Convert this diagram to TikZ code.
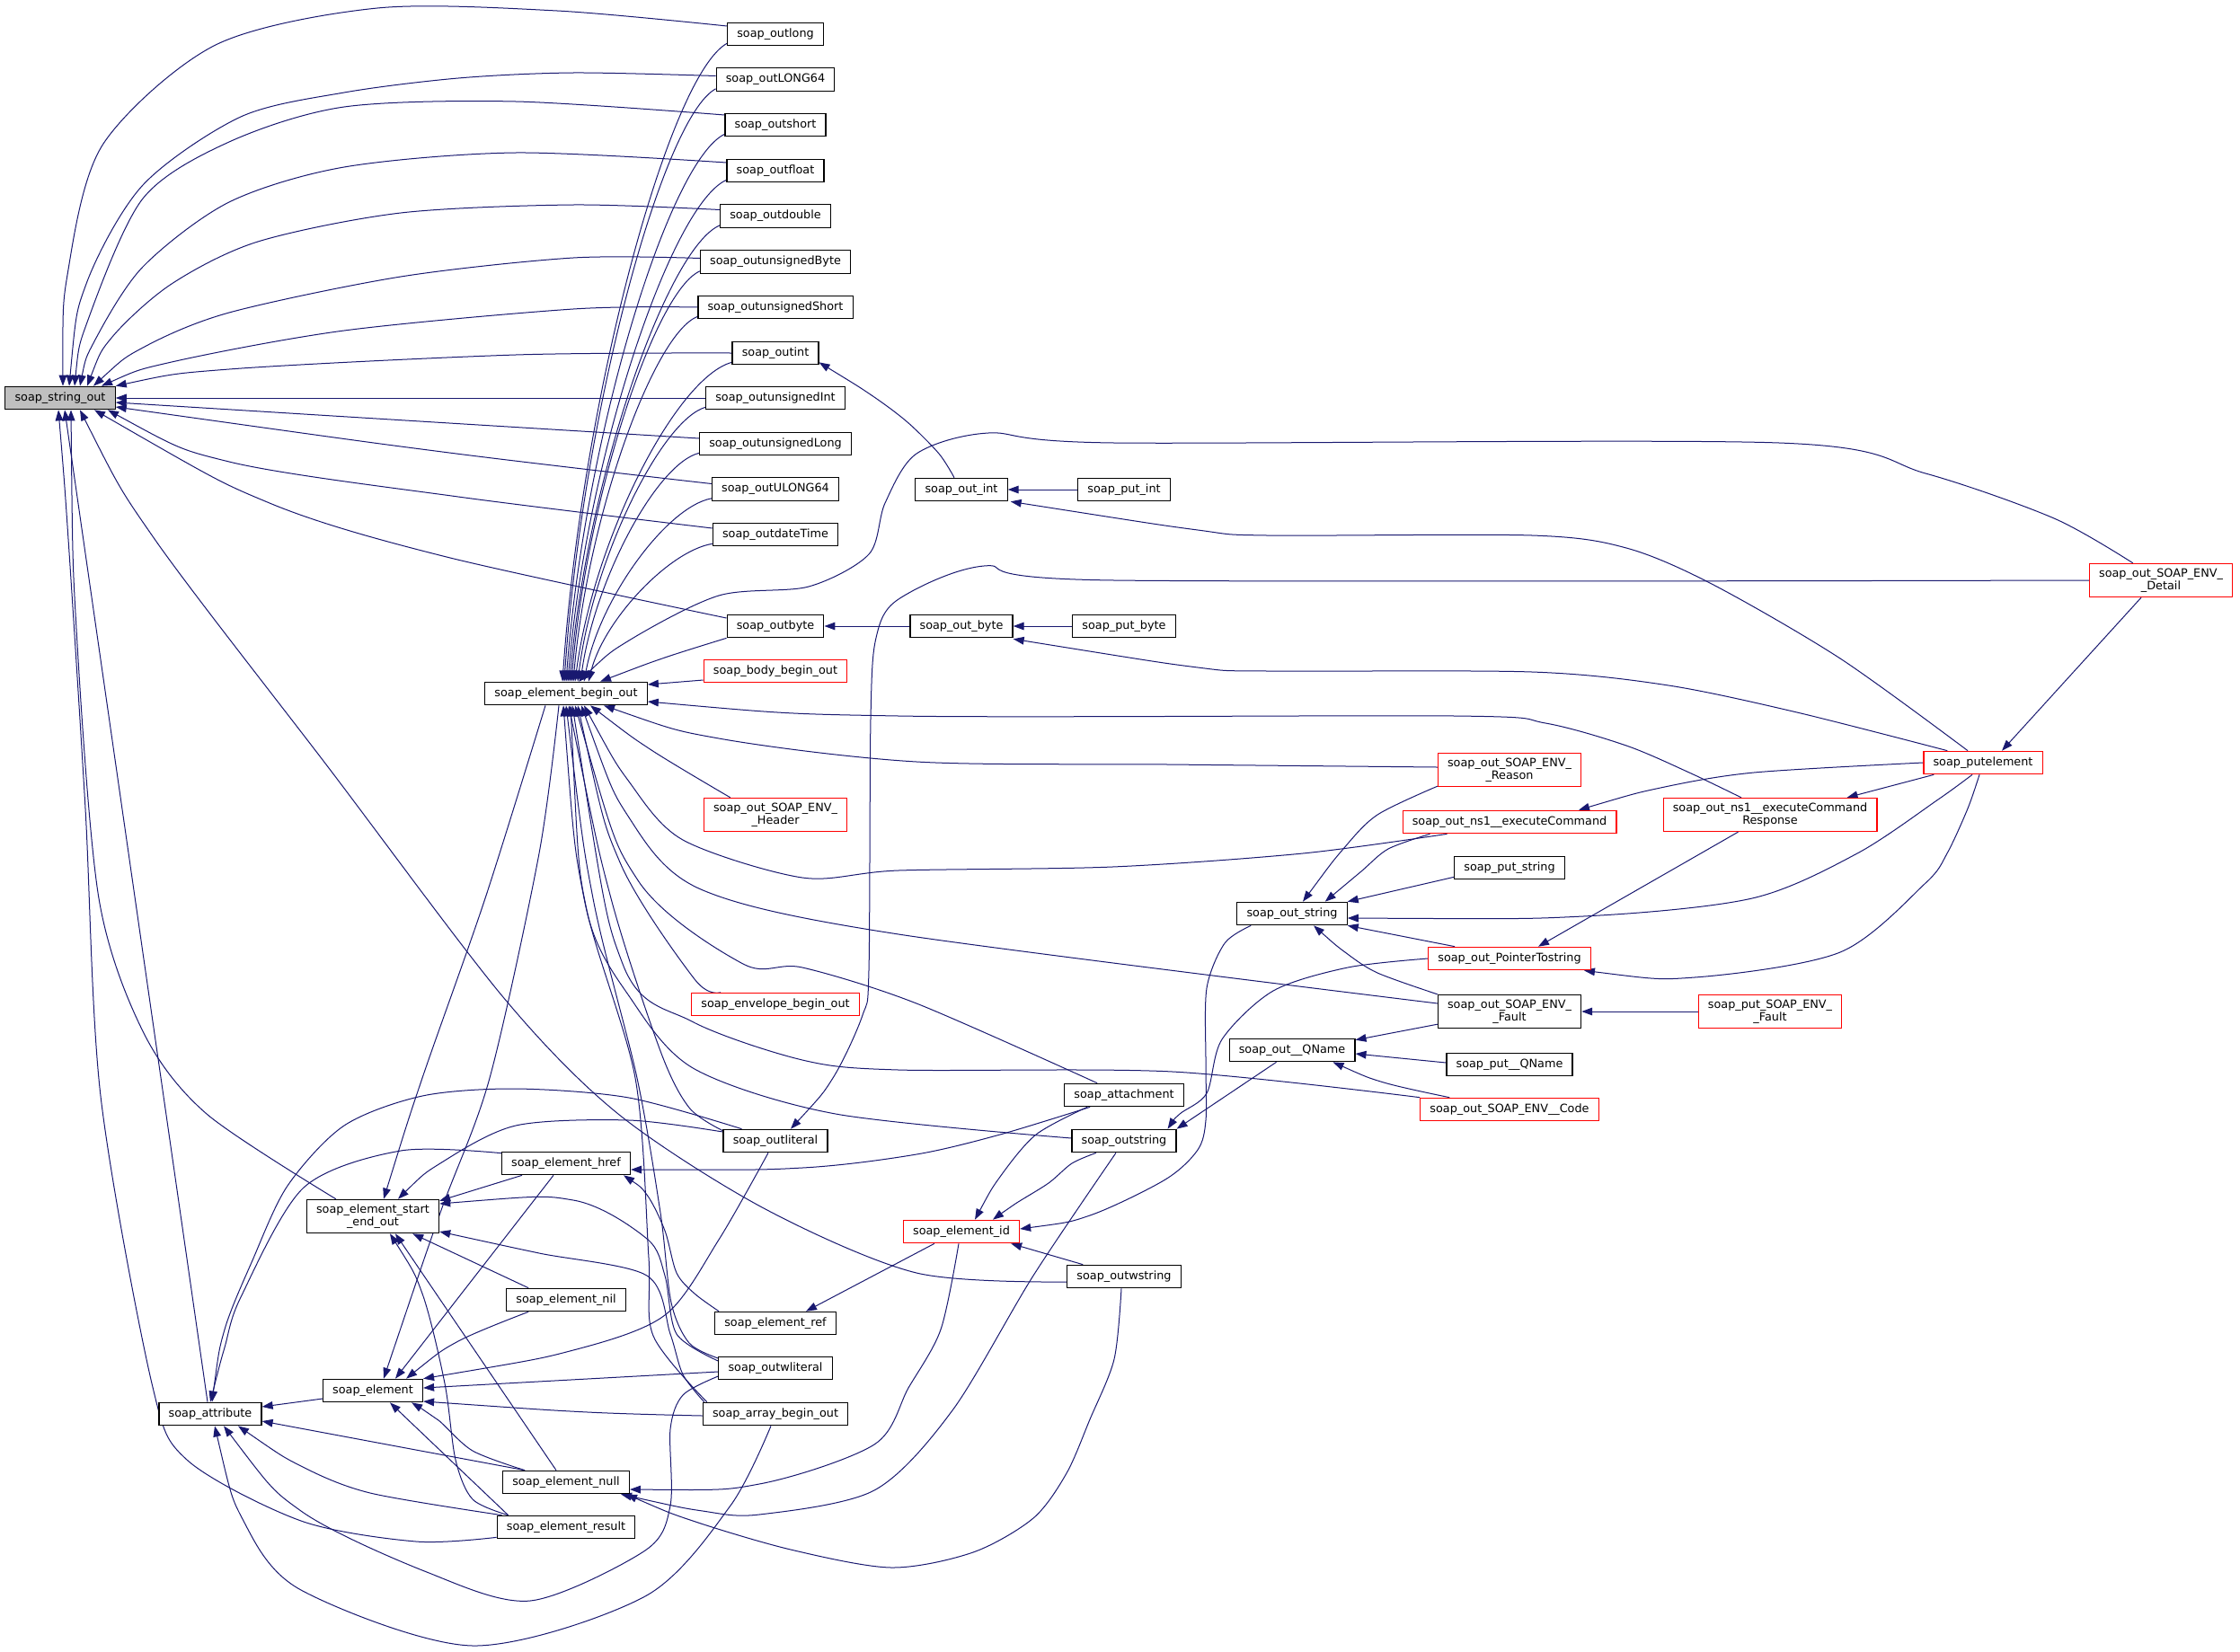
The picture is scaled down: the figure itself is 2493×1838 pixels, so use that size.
\documentclass[tikz,border=0pt]{standalone}
\usepackage{fontspec}
\setmainfont{DejaVu Sans}
\usetikzlibrary{arrows.meta,calc}
\definecolor{eb}{HTML}{191970}
\pgfdeclarelayer{bg}
\pgfsetlayers{bg,main}
\newcommand\nf{\fontsize{9.6}{10.5}\selectfont}
\tikzset{
  nd/.style={draw=black, line width=0.9pt, fill=white, font=\nf, inner xsep=8pt, inner ysep=4pt, minimum height=19.1pt, align=center},
  rn/.style={nd, draw=red},
  cl/.style={draw=eb, line width=0.75pt, arrows={Triangle[length=9pt,width=6.5pt]-}},
}
\begin{document}
\begin{tikzpicture}[x=0.75pt,y=-0.75pt]
\useasboundingbox (0,0) rectangle (2493,1838);
% rank 0-3
\node[nd,fill=gray!50] (S) at (67,443) {soap\_string\_out};
\node[nd] (A) at (234,1574) {soap\_attribute};
\node[nd] (SE) at (415,1354) {soap\_element\_start\\\_end\_out};
\node[nd] (EL) at (415,1548) {soap\_element};
\node[nd] (EBO) at (630,772) {soap\_element\_begin\_out};
\node[nd] (HREF) at (630,1295) {soap\_element\_href};
\node[nd] (NIL) at (630,1447) {soap\_element\_nil};
\node[nd] (NUL) at (630,1650) {soap\_element\_null};
\node[nd] (RES) at (630,1700) {soap\_element\_result};
% rank 4
\node[nd] (oLong) at (863,38) {soap\_outlong};
\node[nd] (oL64) at (863,88.5) {soap\_outLONG64};
\node[nd] (oShort) at (863,139) {soap\_outshort};
\node[nd] (oFloat) at (863,190) {soap\_outfloat};
\node[nd] (oDouble) at (863,240.5) {soap\_outdouble};
\node[nd] (oUB) at (863,291.5) {soap\_outunsignedByte};
\node[nd] (oUS) at (863,342) {soap\_outunsignedShort};
\node[nd] (oInt) at (863,393) {soap\_outint};
\node[nd] (oUI) at (863,443) {soap\_outunsignedInt};
\node[nd] (oUL) at (863,494) {soap\_outunsignedLong};
\node[nd] (oUL64) at (863,544.5) {soap\_outULONG64};
\node[nd] (oDT) at (863,595) {soap\_outdateTime};
\node[nd] (oByte) at (863,697) {soap\_outbyte};
\node[rn] (body) at (863,747) {soap\_body\_begin\_out};
\node[rn] (header) at (863,907) {soap\_out\_SOAP\_ENV\_\\\_Header};
\node[rn] (envelope) at (863,1118) {soap\_envelope\_begin\_out};
\node[nd] (oLit) at (863,1270) {soap\_outliteral};
\node[nd] (ref) at (863,1473) {soap\_element\_ref};
\node[nd] (oWLit) at (863,1523) {soap\_outwliteral};
\node[nd] (array) at (863,1574) {soap\_array\_begin\_out};
% rank 5-6
\node[nd] (outI) at (1070,545) {soap\_out\_int};
\node[nd] (outB) at (1070,697) {soap\_out\_byte};
\node[rn] (eid) at (1070,1371) {soap\_element\_id};
\node[nd] (putI) at (1251,545) {soap\_put\_int};
\node[nd] (putB) at (1251,697) {soap\_put\_byte};
\node[nd] (attach) at (1251,1219) {soap\_attachment};
\node[nd] (oStr) at (1251,1270) {soap\_outstring};
\node[nd] (oWStr) at (1251,1421) {soap\_outwstring};
% rank 7-11
\node[nd] (ostring) at (1438,1017) {soap\_out\_string};
\node[nd] (qname) at (1438,1169) {soap\_out\_\_QName};
\node[rn] (reason) at (1680,857) {soap\_out\_SOAP\_ENV\_\\\_Reason};
\node[rn] (execC) at (1680,915) {soap\_out\_ns1\_\_executeCommand};
\node[nd] (putS) at (1680,966) {soap\_put\_string};
\node[rn] (ptr) at (1680,1067) {soap\_out\_PointerTostring};
\node[nd] (fault) at (1680,1126) {soap\_out\_SOAP\_ENV\_\\\_Fault};
\node[nd] (putQ) at (1680,1185) {soap\_put\_\_QName};
\node[rn] (code) at (1680,1235) {soap\_out\_SOAP\_ENV\_\_Code};
\node[rn] (execR) at (1970,907) {soap\_out\_ns1\_\_executeCommand\\Response};
\node[rn] (putF) at (1970,1126) {soap\_put\_SOAP\_ENV\_\\\_Fault};
\node[rn] (putel) at (2207,849) {soap\_putelement};
\node[rn] (detail) at (2405,646) {soap\_out\_SOAP\_ENV\_\\\_Detail};

\begin{pgfonlayer}{bg}
% ---- into soap_string_out
\draw[cl] plot[smooth] coordinates {($(S.north)+(3,0)$) (76,300) (115,160) (240,50) (420,9) (620,12) ($(oLong.west)+(0,-9)$)};
\draw[cl] plot[smooth] coordinates {($(S.north)+(10,0)$) (96,316) (159,206) (268,130) (383,103) (510,87) (638,81) ($(oL64.west)+(0,-4)$)};
\draw[cl] plot[smooth] coordinates {($(S.north)+(16,0)$) (98,356) (159,221) (255,158) (383,119) (574,113) ($(oShort.west)+(0,-11)$)};
\draw[cl] plot[smooth] coordinates {($(S.north)+(22,0)$) (105,380) (159,297) (255,225) (383,186) (574,170) ($(oFloat.west)+(0,-9)$)};
\draw[cl] plot[smooth] coordinates {($(S.north)+(30,0)$) (125,375) (191,316) (287,269) (446,237) (638,228) ($(oDouble.west)+(0,-7)$)};
\draw[cl] plot[smooth] coordinates {($(S.north)+(37,0)$) (159,387) (255,348) (446,308) (638,287) ($(oUB.west)+(0,-4)$)};
\draw[cl] plot[smooth] coordinates {($(S.north)+(46,0)$) (191,403) (383,368) (638,344) (oUS.west)};
\draw[cl] plot[smooth] coordinates {(S.north east) (255,411) (574,395) (oInt.west)};
\draw[cl] (S.east) -- (oUI.west);
\draw[cl] plot[smooth] coordinates {($(S.east)+(0,5)$) (500,471) ($(oUL.west)+(0,-6)$)};
\draw[cl] plot[smooth] coordinates {($(S.east)+(0,10)$) (500,504) ($(oUL64.west)+(0,-6)$)};
\draw[cl] plot[smooth] coordinates {($(S.south)+(53,0)$) (255,514) (510,553) ($(oDT.west)+(0,-7)$)};
\draw[cl] plot[smooth] coordinates {($(S.south)+(38,0)$) (300,560) (497,620) ($(oByte.west)+(0,-9)$)};
\draw[cl] ($(S.south)+(5,0)$) -- ($(A.north)+(-3,0)$);
\draw[cl] plot[smooth] coordinates {($(S.south)+(-2,0)$) (76,600) (95,900) (112,1220) (169,1540) (208,1625) (335,1693) (463,1716) ($(RES.south west)+(0,-2)$)};
\draw[cl] plot[smooth] coordinates {($(S.south)+(12,0)$) (85,700) (110,1000) (160,1150) (230,1240) ($(SE.north west)+(33,0)$)};
\draw[cl] plot[smooth] coordinates {($(S.south)+(22,0)$) (172,600) (366,855) (560,1110) (688,1240) (850,1345) (1020,1417) ($(oWStr.west)+(0,6)$)};
% ---- into soap_element_begin_out from the upper column
\draw[cl] ($(EBO.north)+(-4,0)$) .. controls (648,440) and (745,84) .. ($(oLong.south west)+(0,-3)$);
\draw[cl] ($(EBO.north)+(-2,0)$) .. controls (648,462) and (737,131) .. ($(oL64.south west)+(0,-3)$);
\draw[cl] ($(EBO.north)+(0,0)$) .. controls (651,485) and (744,180) .. ($(oShort.south west)+(0,-3)$);
\draw[cl] ($(EBO.north)+(2,0)$) .. controls (653,508) and (747,228) .. ($(oFloat.south west)+(0,-3)$);
\draw[cl] ($(EBO.north)+(4,0)$) .. controls (654,530) and (743,276) .. ($(oDouble.south west)+(0,-3)$);
\draw[cl] ($(EBO.north)+(6,0)$) .. controls (653,553) and (729,324) .. ($(oUB.south west)+(0,-3)$);
\draw[cl] ($(EBO.north)+(8,0)$) .. controls (654,576) and (727,372) .. ($(oUS.south west)+(0,-3)$);
\draw[cl] ($(EBO.north)+(10,0)$) .. controls (661,599) and (753,420) .. ($(oInt.south west)+(0,-3)$);
\draw[cl] ($(EBO.north)+(13,0)$) .. controls (660,622) and (736,468) .. ($(oUI.south west)+(0,-3)$);
\draw[cl] ($(EBO.north)+(16,0)$) .. controls (662,645) and (731,516) .. ($(oUL.south west)+(0,-3)$);
\draw[cl] ($(EBO.north)+(20,0)$) .. controls (667,667) and (742,564) .. ($(oUL64.south west)+(0,-3)$);
\draw[cl] ($(EBO.north)+(25,0)$) .. controls (672,690) and (745,613) .. ($(oDT.south west)+(0,-3)$);
\draw[cl] plot[smooth] coordinates {($(EBO.north)+(38,0)$) (740,732) (oByte.south west)};
\draw[cl] ($(EBO.east)+(0,-10)$) -- ($(body.west)+(0,10)$);
\draw[cl] plot[smooth] coordinates {($(EBO.north)+(14,0)$) (700,713) (800,663) (900,653) (967,617) (985,560) (1020,505) (1100,482) (1240,493) (1980,493) (2143,527) (2286,577) ($(detail.north west)+(49,0)$)};
\draw[cl] plot[smooth] coordinates {($(EBO.east)+(0,9)$) (1000,797) (1619,797) (1720,805) (1810,830) (1880,860) ($(execR.north)+(-32,0)$)};
\draw[cl] plot[smooth] coordinates {($(EBO.south)+(42,0)$) (800,822) (1020,848) (1300,851) ($(reason.west)+(0,-3)$)};
\draw[cl] plot[smooth] coordinates {($(EBO.south)+(27,0)$) (725,835) ($(header.north west)+(30,0)$)};
\draw[cl] plot[smooth] coordinates {($(EBO.south)+(20,0)$) (700,870) (760,935) (893,977) (1000,969) (1238,965) (1450,950) ($(execC.south west)+(50,0)$)};
\draw[cl] plot[smooth] coordinates {($(EBO.south)+(17,0)$) (700,910) (780,990) (1000,1040) ($(fault.west)+(0,-9)$)};
\draw[cl] plot[smooth] coordinates {($(EBO.south)+(13,0)$) (690,960) (773,1090) ($(envelope.north west)+(33,0)$)};
\draw[cl] plot[smooth] coordinates {($(EBO.south)+(10,0)$) (710,980) (827,1073) (893,1077) (1020,1117) ($(attach.north west)+(37,0)$)};
\draw[cl] plot[smooth] coordinates {($(EBO.south)+(7,0)$) (693,1073) (770,1137) (893,1180) (1000,1191) (1305,1193) (code.north west)};
\draw[cl] plot[smooth] coordinates {($(EBO.south)+(5,0)$) (653,1013) (703,1113) (773,1190) (930,1240) ($(oStr.west)+(0,-3)$)};
\draw[cl] plot[smooth] coordinates {($(EBO.south)+(3,0)$) (680,1000) (735,1170) (767,1233) ($(oLit.north west)+(0,2)$)};
\draw[cl] plot[smooth] coordinates {(EBO.south) (660,1000) (709,1200) (735,1350) (747,1450) (767,1495) ($(oWLit.west)+(0,-11)$)};
\draw[cl] plot[smooth] coordinates {($(EBO.south)+(-3,0)$) (650,1000) (707,1200) (722,1400) (727,1487) ($(array.north west)+(5,0)$)};
% ---- start_end_out and element
\draw[cl] plot[smooth] coordinates {($(SE.north)+(12,0)$) (470,1200) (540,1000) ($(EBO.south)+(-23,0)$)};
\draw[cl] plot[smooth] coordinates {($(EL.north)+(12,0)$) (490,1350) (545,1200) (600,950) ($(EBO.south)+(-8,0)$)};
\draw[cl] plot[smooth] coordinates {($(SE.north)+(28,0)$) (490,1295) (574,1253) (700,1247) ($(oLit.west)+(0,-10)$)};
\draw[cl] ($(SE.north east)+(0,2)$) -- ($(HREF.south west)+(23,0)$);
\draw[cl] plot[smooth] coordinates {($(SE.east)+(0,-14)$) (638,1336) (720,1379) (740,1420) (753,1485) ($(oWLit.west)+(0,-8)$)};
\draw[cl] plot[smooth] coordinates {($(SE.east)+(0,17)$) (600,1395) (720,1420) (746,1485) (760,1530) ($(array.north west)+(2,0)$)};
\draw[cl] ($(SE.south east)+(-30,0)$) -- ($(NIL.north west)+(25,0)$);
\draw[cl] ($(SE.south)+(25,0)$) -- ($(NUL.north)+(-11,0)$);
\draw[cl] plot[smooth] coordinates {($(SE.south)+(19,0)$) (470,1440) (495,1540) (507,1625) (526,1669) ($(RES.north west)+(13,0)$)};
\draw[cl] ($(EL.north)+(25,0)$) -- ($(HREF.south west)+(58,0)$);
\draw[cl] plot[smooth] coordinates {($(EL.north east)+(-19,0)$) (510,1493) ($(NIL.south west)+(25,0)$)};
\draw[cl] plot[smooth] coordinates {(EL.north east) (638,1503) (740,1464) (800,1380) ($(oLit.south)+(-8,0)$)};
\draw[cl] ($(EL.east)+(0,-3)$) -- ($(oWLit.west)+(0,4)$);
\draw[cl] plot[smooth] coordinates {($(EL.east)+(0,12)$) (654,1572) ($(array.west)+(0,2)$)};
\draw[cl] plot[smooth] coordinates {($(EL.south east)+(-13,0)$) (488,1581) (526,1615) ($(NUL.north west)+(25,0)$)};
\draw[cl] ($(EL.south)+(19,0)$) -- ($(RES.north west)+(13,0)$);
% ---- into soap_attribute
\draw[cl] ($(A.east)+(0,-8)$) -- ($(EL.west)+(0,9)$);
\draw[cl] ($(A.east)+(0,8)$) -- ($(NUL.north west)+(25,0)$);
\draw[cl] plot[smooth] coordinates {($(A.south)+(31,0)$) (335,1632) (412,1662) ($(RES.north west)+(6,0)$)};
\draw[cl] plot[smooth] coordinates {($(A.north)+(2,0)$) (250,1480) (281,1403) (320,1320) (383,1253) (470,1220) (574,1212) (700,1222) ($(oLit.north west)+(21,0)$)};
\draw[cl] plot[smooth] coordinates {(A.north) (250,1500) (268,1444) (338,1322) (446,1281) ($(HREF.north west)+(0,2)$)};
\draw[cl] plot[smooth] coordinates {($(A.south)+(15,0)$) (335,1682) (475,1750) (590,1782) (718,1726) (746,1676) (746,1591) (760,1553) ($(oWLit.west)+(0,9)$)};
\draw[cl] plot[smooth] coordinates {($(A.south)+(5,0)$) (271,1693) (335,1770) (526,1832) (718,1777) (813,1676) ($(array.south)+(-5,0)$)};
% ---- element_href, element_ref, element_null
\draw[cl] plot[smooth] coordinates {($(HREF.east)+(0,7)$) (893,1300) (1020,1285) (1113,1263) ($(attach.south west)+(29,0)$)};
\draw[cl] plot[smooth] coordinates {($(HREF.south east)+(-8,0)$) (720,1330) (740,1370) (753,1417) (773,1440) ($(ref.north west)+(5,0)$)};
\draw[cl] ($(ref.north)+(34,0)$) -- ($(eid.south west)+(35,0)$);
\draw[cl] plot[smooth] coordinates {($(NUL.east)+(0,8)$) (845,1652) (973,1608) (1011,1545) (1047,1480) ($(eid.south)+(-3,0)$)};
\draw[cl] plot[smooth] coordinates {($(NUL.south east)+(-10,0)$) (782,1682) (845,1686) (973,1659) (1060,1570) (1150,1420) ($(oStr.south)+(-9,0)$)};
\draw[cl] plot[smooth] coordinates {($(NUL.south east)+(-4,0)$) (771,1693) (880,1725) (992,1745) (1083,1728) (1150,1690) (1187,1640) (1213,1580) (1240,1513) ($(oWStr.south)+(-3,0)$)};
% ---- soap_outint / soap_outbyte chains
\draw[cl] plot[smooth] coordinates {($(oInt.south east)+(0,-3)$) (970,440) (1010,470) (1045,505) ($(outI.north)+(-8,0)$)};
\draw[cl] (oByte.east) -- (outB.west);
\draw[cl] (outI.east) -- (putI.west);
\draw[cl] (outB.east) -- (putB.west);
\draw[cl] plot[smooth] coordinates {($(outI.south east)+(3,0)$) (1333,590) (1410,596) (1705,596) (1810,610) (1905,650) (2048,733) ($(putel.north)+(-17,0)$)};
\draw[cl] plot[smooth] coordinates {($(outB.south east)+(0,1)$) (1333,743) (1410,747) (1705,748) (1857,763) (2000,793) ($(putel.north west)+(27,0)$)};
\draw[cl] plot[smooth] coordinates {($(oLit.north)+(17,0)$) (927,1200) (960,1130) (967,1080) (969,800) (975,710) (1000,667) (1095,630) (1240,646) (detail.west)};
% ---- soap_putelement
\draw[cl] ($(putel.north)+(21,0)$) -- ($(detail.south)+(-22,0)$);
\draw[cl] ($(execR.north east)+(-34,0)$) -- ($(putel.south west)+(12,0)$);
\draw[cl] plot[smooth] coordinates {($(execC.north)+(77,0)$) (1848,877) (1952,860) (putel.west)};
% ---- element_id
\draw[cl] plot[smooth] coordinates {($(eid.north)+(15,0)$) (1113,1310) (1153,1263) ($(attach.south west)+(26,0)$)};
\draw[cl] plot[smooth] coordinates {($(eid.north)+(35,0)$) (1130,1340) (1167,1317) (1193,1295) ($(oStr.south)+(-31,0)$)};
\draw[cl] ($(eid.south east)+(-10,0)$) -- ($(oWStr.north west)+(18,0)$);
\draw[cl] plot[smooth] coordinates {($(eid.east)+(0,-3)$) (1213,1353) (1297,1313) (1333,1280) (1342,1247) (1342,1183) (1343,1100) (1363,1050) ($(ostring.south west)+(16,0)$)};
% ---- soap_outstring
\draw[cl] plot[smooth] coordinates {($(oStr.north east)+(-10,0)$) (1313,1240) (1343,1217) (1360,1157) (1417,1103) (1500,1077) (ptr.west)};
\draw[cl] ($(oStr.north east)+(0,0)$) -- ($(qname.south west)+(53,0)$);
% ---- soap_out_string
\draw[cl] plot[smooth] coordinates {($(ostring.north)+(12,0)$) (1495,945) (1533,907) ($(reason.south west)+(0,-1)$)};
\draw[cl] plot[smooth] coordinates {($(ostring.north east)+(-25,0)$) (1515,970) (1545,945) ($(execC.south west)+(31,0)$)};
\draw[cl] ($(ostring.north east)$) -- ($(putS.south west)+(0,-3)$);
\draw[cl] plot[smooth] coordinates {($(ostring.east)+(0,5)$) (1762,1020) (1950,1000) (2067,950) (2157,890) ($(putel.south)+(-12,0)$)};
\draw[cl] (ostring.south east) -- ($(ptr.north west)+(30,0)$);
\draw[cl] plot[smooth] coordinates {($(ostring.south)+(24,0)$) (1497,1060) (1533,1083) (fault.north west)};
% ---- PointerTostring, Fault, QName
\draw[cl] plot[smooth] coordinates {($(ptr.south east)+(-8,0)$) (1886,1088) (2048,1060) (2143,983) (2167,950) (2190,900) ($(putel.south)+(-4,0)$)};
\draw[cl] ($(ptr.north)+(32,0)$) -- ($(execR.south west)+(84,0)$);
\draw[cl] (fault.east) -- (putF.west);
\draw[cl] ($(qname.north east)+(0,2)$) -- ($(fault.south west)+(0,-5)$);
\draw[cl] ($(qname.east)+(0,4)$) -- ($(putQ.west)+(0,-2)$);
\draw[cl] plot[smooth] coordinates {($(qname.south east)+(-25,0)$) (1540,1205) ($(code.north west)+(33,0)$)};
\end{pgfonlayer}
\end{tikzpicture}
\end{document}
